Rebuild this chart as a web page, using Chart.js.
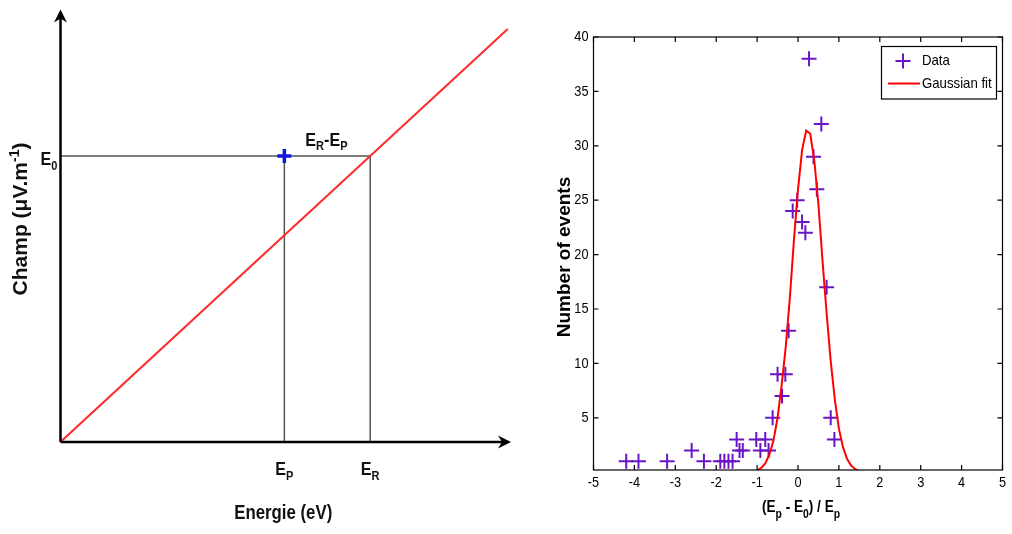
<!DOCTYPE html>
<html>
<head>
<meta charset="utf-8">
<script src="https://cdn.jsdelivr.net/npm/chart.js@4.4.1/dist/chart.umd.min.js"></script>
<style>
html, body { margin: 0; padding: 0; background: #fff; }
#wrap { position: relative; width: 1012px; height: 534px; }
#left { position: absolute; left: 0; top: 0; }
#right { position: absolute; left: 540px; top: 0; }
</style>
</head>
<body>
<div id="wrap">
  <canvas id="left" width="540" height="534"></canvas>
  <canvas id="right" width="472" height="534"></canvas>
</div>
<script>
const FAMILY = '"Liberation Sans", Arial, sans-serif';
const PURPLE = '#6a14c8';

// left panel (schematic, arbitrary units)
const lineX = [0, 9.95];
const lineY = [0, 9.57];
const levelE0 = 6.63;
const levelEP = 4.98;
const levelER = 6.89;

// right panel
const dataX = [-4.2, -3.9, -3.2, -2.6, -2.3, -1.9, -1.8, -1.7, -1.6, -1.5, -1.43, -1.35,
               -1.02, -0.92, -0.8, -0.72, -0.62, -0.5, -0.39, -0.31, -0.23, -0.13, -0.02,
               0.1, 0.18, 0.27, 0.38, 0.46, 0.57, 0.7, 0.8, 0.89];
const dataY = [1, 1, 1, 2, 1, 1, 1, 1, 1, 3, 2, 2,
               3, 2, 3, 2, 5, 9, 7, 9, 13, 24, 25,
               23, 22, 38, 29, 26, 32, 17, 5, 3];
const fitX = [-1.0, -0.9, -0.8, -0.7, -0.6, -0.5, -0.4, -0.3, -0.2, -0.1, 0, 0.1, 0.2,
              0.3, 0.4, 0.5, 0.6, 0.7, 0.8, 0.9, 1.0, 1.1, 1.2, 1.3, 1.4, 1.5];
const fitY = [0.17, 0.38, 0.8, 1.6, 2.9, 5.0, 8.0, 11.5, 16.0, 21.3, 26.0, 29.6, 31.4,
              31.1, 28.6, 24.6, 19.4, 14.6, 10.2, 6.7, 4.0, 2.3, 1.2, 0.6, 0.27, 0.12];
const xTicks = [-5, -4, -3, -2, -1, 0, 1, 2, 3, 4, 5];
const yTicks = [5, 10, 15, 20, 25, 30, 35, 40];

function pts(xs, ys) {
    return xs.map((x, i) => ({x: x, y: ys[i]}));
}

// condensed single-line text
function condText(ctx, text, x, y, font, sx, align, baseline) {
    ctx.save();
    ctx.font = font;
    ctx.textAlign = align;
    ctx.textBaseline = baseline;
    ctx.translate(x, y);
    ctx.scale(sx, 1);
    ctx.fillText(text, 0, 0);
    ctx.restore();
}

// text with subscript parts: parts = [[text, shift], ...], shift 0 = main, +1 = sub, -1 = sup
function drawParts(ctx, parts, x, y, size, subSize, align, subShift, sx, weight) {
    weight = weight || 'bold';
    let w = 0;
    parts.forEach(p => {
        ctx.font = weight + ' ' + (p[1] ? subSize : size) + 'px ' + FAMILY;
        w += ctx.measureText(p[0]).width * sx;
    });
    let cx = x;
    if (align === 'center') cx = x - w / 2;
    if (align === 'right') cx = x - w;
    parts.forEach(p => {
        const f = weight + ' ' + (p[1] ? subSize : size) + 'px ' + FAMILY;
        condText(ctx, p[0], cx, y + p[1] * subShift, f, sx, 'left', 'alphabetic');
        ctx.font = f;
        cx += ctx.measureText(p[0]).width * sx;
    });
}

function arrowHead(ctx, x, y, dir) {
    ctx.save();
    ctx.translate(x, y);
    ctx.rotate(dir);
    ctx.beginPath();
    ctx.moveTo(0, 0);
    ctx.lineTo(-13, -6.5);
    ctx.lineTo(-9, 0);
    ctx.lineTo(-13, 6.5);
    ctx.closePath();
    ctx.fill();
    ctx.restore();
}

const schemeDecor = {
    id: 'schemeDecor',
    afterDatasetsDraw(chart) {
        const ctx = chart.ctx;
        const a = chart.chartArea;
        const xs = chart.scales.x, ys = chart.scales.y;
        ctx.save();
        ctx.fillStyle = '#000';
        ctx.strokeStyle = '#000';
        ctx.lineWidth = 2.5;
        ctx.beginPath();
        ctx.moveTo(a.left, a.bottom);
        ctx.lineTo(a.right - 4, a.bottom);
        ctx.moveTo(a.left, a.bottom);
        ctx.lineTo(a.left, a.top + 4);
        ctx.stroke();
        arrowHead(ctx, a.right + 1, a.bottom, 0);
        arrowHead(ctx, a.left, a.top - 1, -Math.PI / 2);

        ctx.fillStyle = '#111';
        const yE0 = ys.getPixelForValue(levelE0);
        drawParts(ctx, [['E', 0], ['0', 1]], a.left - 3, yE0 + 9, 19, 13, 'right', 5, 0.85);
        drawParts(ctx, [['E', 0], ['R', 1], ['-E', 0], ['P', 1]],
            xs.getPixelForValue(levelEP) + 21, yE0 - 10, 19, 13, 'left', 4, 0.85);
        drawParts(ctx, [['E', 0], ['P', 1]], xs.getPixelForValue(levelEP), a.bottom + 33, 19, 13, 'center', 5, 0.85);
        drawParts(ctx, [['E', 0], ['R', 1]], xs.getPixelForValue(levelER), a.bottom + 33, 19, 13, 'center', 5, 0.85);

        condText(ctx, 'Energie (eV)', (a.left + a.right) / 2 - 2, 513, 'bold 21px ' + FAMILY, 0.8, 'center', 'middle');

        ctx.translate(27, 219);
        ctx.rotate(-Math.PI / 2);
        drawParts(ctx, [['Champ (\u03bcV.m', 0], ['-1', -1], [')', 0]], 0, 0, 21, 14, 'center', 8, 1);
        ctx.restore();
    }
};

new Chart(document.getElementById('left'), {
    type: 'scatter',
    data: {
        datasets: [
            {
                data: [{x: levelEP, y: levelE0}],
                pointStyle: 'cross', pointRadius: 7, pointBorderWidth: 3.5,
                borderColor: '#1515e0', backgroundColor: '#1515e0'
            },
            {
                data: pts(lineX, lineY), showLine: true,
                borderColor: '#ff2a2a', borderWidth: 2, pointRadius: 0
            },
            {
                data: [{x: 0, y: levelE0}, {x: levelER, y: levelE0}], showLine: true,
                borderColor: '#555', borderWidth: 1.5, pointRadius: 0
            },
            {
                data: [{x: levelEP, y: 0}, {x: levelEP, y: levelE0}], showLine: true,
                borderColor: '#555', borderWidth: 1.5, pointRadius: 0
            },
            {
                data: [{x: levelER, y: 0}, {x: levelER, y: levelE0}], showLine: true,
                borderColor: '#555', borderWidth: 1.5, pointRadius: 0
            }
        ]
    },
    options: {
        responsive: false,
        animation: false,
        layout: {padding: {left: 60.5, right: 30, top: 10, bottom: 92}},
        plugins: {legend: {display: false}, tooltip: {enabled: false}},
        scales: {
            x: {type: 'linear', min: 0, max: 10, display: false},
            y: {type: 'linear', min: 0, max: 10, display: false}
        }
    },
    plugins: [schemeDecor]
});

const frameDecor = {
    id: 'frameDecor',
    afterDatasetsDraw(chart) {
        const ctx = chart.ctx;
        const a = chart.chartArea;
        const xs = chart.scales.x, ys = chart.scales.y;
        ctx.save();
        ctx.strokeStyle = '#000';
        ctx.lineWidth = 1.2;
        ctx.strokeRect(a.left, a.top, a.right - a.left, a.bottom - a.top);
        ctx.beginPath();
        xTicks.forEach(v => {
            const px = xs.getPixelForValue(v);
            ctx.moveTo(px, a.bottom); ctx.lineTo(px, a.bottom - 5);
            ctx.moveTo(px, a.top); ctx.lineTo(px, a.top + 5);
        });
        yTicks.forEach(v => {
            const py = ys.getPixelForValue(v);
            ctx.moveTo(a.left, py); ctx.lineTo(a.left + 5, py);
            ctx.moveTo(a.right, py); ctx.lineTo(a.right - 5, py);
        });
        ctx.stroke();

        // tick labels
        ctx.fillStyle = '#000';
        xTicks.forEach(v => {
            condText(ctx, String(v), xs.getPixelForValue(v), a.bottom + 13, '15px ' + FAMILY, 0.85, 'center', 'middle');
        });
        yTicks.forEach(v => {
            condText(ctx, String(v), a.left - 5, ys.getPixelForValue(v), '15px ' + FAMILY, 0.85, 'right', 'middle');
        });

        // legend
        const lx = 341.5, ly = 46.5, lw = 115, lh = 52.5;
        ctx.fillStyle = '#fff';
        ctx.fillRect(lx, ly, lw, lh);
        ctx.strokeRect(lx, ly, lw, lh);
        ctx.strokeStyle = PURPLE;
        ctx.lineWidth = 2;
        ctx.beginPath();
        ctx.moveTo(355.5, 61); ctx.lineTo(370.5, 61);
        ctx.moveTo(363, 53.5); ctx.lineTo(363, 68.5);
        ctx.stroke();
        ctx.strokeStyle = '#ff0000';
        ctx.beginPath();
        ctx.moveTo(348, 83.5); ctx.lineTo(380, 83.5);
        ctx.stroke();
        ctx.fillStyle = '#000';
        condText(ctx, 'Data', 382, 61, '15px ' + FAMILY, 0.88, 'left', 'middle');
        condText(ctx, 'Gaussian fit', 382, 84, '15px ' + FAMILY, 0.88, 'left', 'middle');

        // titles
        drawParts(ctx, [['(E', 0], ['p', 1], [' - E', 0], ['0', 1], [') / E', 0], ['p', 1]],
            (a.left + a.right) / 2 + 3, 512, 17, 13, 'center', 6, 0.8);
        ctx.translate(25, 257);
        ctx.rotate(-Math.PI / 2);
        condText(ctx, 'Number of events', 0, 0, 'bold 19px ' + FAMILY, 1, 'center', 'middle');
        ctx.restore();
    }
};

new Chart(document.getElementById('right'), {
    type: 'scatter',
    data: {
        datasets: [
            {
                label: 'Gaussian fit', data: pts(fitX, fitY), showLine: true,
                borderColor: '#ff0000', borderWidth: 2, pointRadius: 0, tension: 0
            },
            {
                label: 'Data', data: pts(dataX, dataY),
                pointStyle: 'cross', pointRadius: 7.5, pointBorderWidth: 2,
                borderColor: PURPLE, backgroundColor: PURPLE
            }
        ]
    },
    options: {
        responsive: false,
        animation: false,
        layout: {padding: {left: 0, right: 6, top: 37, bottom: 0}},
        plugins: {legend: {display: false}, tooltip: {enabled: false}},
        scales: {
            x: {
                type: 'linear', min: -5, max: 5,
                grid: {display: false, drawTicks: false}, border: {display: false},
                afterBuildTicks: s => { s.ticks = xTicks.map(v => ({value: v})); },
                afterFit: s => { s.height = 64; },
                ticks: {display: false}
            },
            y: {
                type: 'linear', min: 0.2, max: 40,
                grid: {display: false, drawTicks: false}, border: {display: false},
                afterBuildTicks: s => { s.ticks = yTicks.map(v => ({value: v})); },
                afterFit: s => { s.width = 53.5; },
                ticks: {display: false}
            }
        }
    },
    plugins: [frameDecor]
});
</script>
</body>
</html>
